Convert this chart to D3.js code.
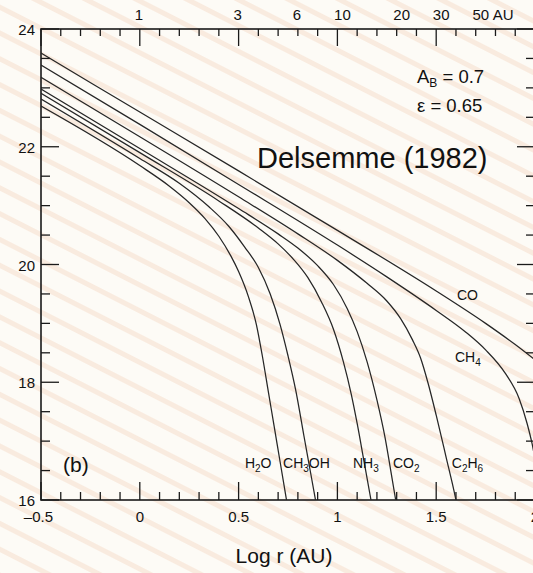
<!DOCTYPE html>
<html lang="en">
<head>
<meta charset="UTF-8">
<title>Sublimation rate vs heliocentric distance</title>
<script src="https://d3js.org/d3.v7.min.js"></script>
<style>
  body { margin: 0; background: #fdfbf6; }
  svg { display: block; font-family: Arial, "Liberation Sans", sans-serif; }
  .curve { fill: none; stroke: #262626; stroke-width: 1.25; }
  .frame { stroke: #1a1a1a; stroke-width: 1.6; fill: none; }
  .tick { stroke: #1a1a1a; stroke-width: 1.3; }
  .lbl { fill: #111; }
</style>
</head>
<body>
<svg id="chart" width="533" height="573"></svg>
<script>
// curves: [log r (AU), log Z]
const co    = [[-0.5,23.59],[0,22.59],[0.5,21.59],[1.0,20.58],[1.5,19.55],[1.75,19.0],[1.9,18.64],[2.0,18.38]];
const ch4   = [[-0.5,23.39],[0,22.38],[0.5,21.36],[1.0,20.33],[1.25,19.79],[1.5,19.22],[1.65,18.85],[1.75,18.55],[1.85,18.15],[1.92,17.72],[1.96,17.3],[1.985,16.96],[2.0,16.7]];
const c2h6  = [[-0.5,23.18],[0,22.17],[0.5,21.15],[0.8,20.52],[1.0,20.07],[1.15,19.68],[1.25,19.38],[1.32,19.08],[1.38,18.72],[1.42,18.42],[1.46,17.97],[1.5,17.44],[1.55,16.73],[1.595,16.08],[1.6,16.0]];
const co2   = [[-0.5,22.98],[0,21.97],[0.5,20.95],[0.7,20.52],[0.8,20.28],[0.9,19.98],[0.98,19.66],[1.05,19.25],[1.1,18.86],[1.15,18.35],[1.2,17.7],[1.24,17.08],[1.27,16.5],[1.295,16.0]];
const nh3   = [[-0.5,22.91],[0,21.9],[0.4,21.08],[0.6,20.62],[0.7,20.35],[0.78,20.08],[0.85,19.78],[0.92,19.36],[0.98,18.9],[1.03,18.35],[1.07,17.8],[1.1,17.3],[1.135,16.65],[1.17,16.0]];
const ch3oh = [[-0.5,22.81],[0,21.8],[0.2,21.38],[0.35,20.98],[0.45,20.65],[0.53,20.3],[0.6,19.95],[0.66,19.5],[0.71,18.98],[0.75,18.45],[0.79,17.85],[0.83,17.1],[0.865,16.45],[0.9,15.8]];
const h2o   = [[-0.5,22.69],[0,21.68],[0.15,21.33],[0.25,21.05],[0.33,20.78],[0.4,20.48],[0.46,20.15],[0.5,19.88],[0.55,19.45],[0.59,18.98],[0.62,18.45],[0.65,17.85],[0.68,17.25],[0.71,16.65],[0.74,16.05],[0.745,15.95]];

// species labels: [text pieces, log r, log Z]  ("_" marks a subscript)
const speciesLabels = [
  [["H","_2","O"], 0.532, 16.54],
  [["CH","_3","OH"], 0.725, 16.54],
  [["NH","_3"], 1.079, 16.54],
  [["CO","_2"], 1.281, 16.54],
  [["C","_2","H","_6"], 1.579, 16.54],
  [["CO"], 1.605, 19.40],
  [["CH","_4"], 1.595, 18.35]
];

const xLabelVals = [-0.5, 0, 0.5, 1, 1.5, 2];
const xLabelText = ["\u20130.5", "0", "0.5", "1", "1.5", "2"];
const yLabelVals = [16, 18, 20, 22, 24];
const topPos  = [0, 0.5, 0.8, 1, 1.3, 1.5, 1.7];
const topText = ["1", "3", "6", "10", "20", "30", "50"];

const svg = d3.select("#chart");
const W = 533, H = 573;
const pL = 41, pR = 535, pT = 29, pB = 500;

const x = d3.scaleLinear().domain([-0.5, 2]).range([pL, pR]);
const y = d3.scaleLinear().domain([16, 24]).range([pB, pT]);

// faint streaky background
const defs = svg.append("defs");
const pat = defs.append("pattern")
  .attr("id", "streaks")
  .attr("patternUnits", "userSpaceOnUse")
  .attr("width", 23).attr("height", 23)
  .attr("patternTransform", "rotate(27)");
pat.append("rect").attr("width", 23).attr("height", 23).attr("fill", "#fdfbf6");
pat.append("rect").attr("y", 4).attr("width", 23).attr("height", 5).attr("fill", "#f9ebdf");
svg.append("rect").attr("width", W).attr("height", H).attr("fill", "url(#streaks)");

defs.append("clipPath").attr("id", "plotclip")
  .append("rect").attr("x", pL).attr("y", pT).attr("width", pR - pL).attr("height", pB - pT);

// ticks: every 0.1 on x, every 0.5 on y, inward
const xt = d3.range(-5, 21).map(d => d / 10);
const yt = d3.range(32, 49).map(d => d / 2);
const isMajX = v => Math.abs(v * 2 - Math.round(v * 2)) < 1e-6;
const isMajY = v => Math.abs(v / 2 - Math.round(v / 2)) < 1e-6;

const tg = svg.append("g");
tg.selectAll(".tb").data(xt).join("line").attr("class", "tick")
  .attr("x1", d => x(d)).attr("x2", d => x(d))
  .attr("y1", pB).attr("y2", d => pB - (isMajX(d) ? 18 : 8));
tg.selectAll(".tt").data(xt).join("line").attr("class", "tick")
  .attr("x1", d => x(d)).attr("x2", d => x(d))
  .attr("y1", pT).attr("y2", d => pT + (isMajX(d) ? 17 : 7));
tg.selectAll(".tl").data(yt).join("line").attr("class", "tick")
  .attr("x1", pL).attr("x2", d => pL + (isMajY(d) ? 18 : 9))
  .attr("y1", d => y(d)).attr("y2", d => y(d));
tg.selectAll(".tr").data(yt).join("line").attr("class", "tick")
  .attr("x1", pR).attr("x2", d => pR - (isMajY(d) ? 18 : 9))
  .attr("y1", d => y(d)).attr("y2", d => y(d));

// frame
svg.append("rect").attr("class", "frame")
  .attr("x", pL).attr("y", pT).attr("width", pR - pL).attr("height", pB - pT);

// curves
const line = d3.line().x(d => x(d[0])).y(d => y(d[1])).curve(d3.curveMonotoneX);
svg.append("g").attr("clip-path", "url(#plotclip)")
  .selectAll("path").data([co, ch4, c2h6, co2, nh3, ch3oh, h2o]).join("path")
  .attr("class", "curve").attr("d", line);

// axis labels
svg.selectAll(".xl").data(xLabelVals).join("text").attr("class", "lbl")
  .attr("x", (d, i) => i === 0 ? x(d) + 12 : x(d))
  .attr("y", 522).attr("font-size", 15)
  .attr("text-anchor", (d, i) => i === 0 ? "end" : "middle")
  .text((d, i) => xLabelText[i]);

svg.selectAll(".yl").data(yLabelVals).join("text").attr("class", "lbl")
  .attr("x", 35).attr("y", d => y(d) + 6).attr("font-size", 15)
  .attr("text-anchor", "end").text(d => d);

svg.selectAll(".tp").data(topPos).join("text").attr("class", "lbl")
  .attr("x", (d, i) => x(d) + (topText[i].length > 1 ? 5 : -1)).attr("y", 20).attr("font-size", 15)
  .attr("text-anchor", "middle").text((d, i) => topText[i]);
svg.append("text").attr("class", "lbl")
  .attr("x", x(1.7) + 17).attr("y", 20).attr("font-size", 15).text("AU");

svg.append("text").attr("class", "lbl")
  .attr("x", x(0.73)).attr("y", 563).attr("font-size", 21)
  .attr("text-anchor", "middle").text("Log r (AU)");

// species labels with subscripts
speciesLabels.forEach(([parts, lx, ly]) => {
  const t = svg.append("text").attr("class", "lbl")
    .attr("x", x(lx)).attr("y", y(ly)).attr("font-size", 14);
  let low = false;
  parts.forEach(p => {
    const sub = p.startsWith("_");
    const s = t.append("tspan").text(sub ? p.slice(1) : p);
    if (sub) { s.attr("font-size", 10).attr("dy", low ? 0 : 4); low = true; }
    else { s.attr("dy", low ? -4 : 0); low = false; }
  });
});

// annotations
svg.append("text").attr("class", "lbl").attr("x", 257).attr("y", 168)
  .attr("font-size", 29).text("Delsemme (1982)");

const ab = svg.append("text").attr("class", "lbl").attr("x", 417).attr("y", 83).attr("font-size", 18.5);
ab.append("tspan").text("A");
ab.append("tspan").attr("font-size", 12).attr("dy", 4).text("B");
ab.append("tspan").attr("dy", -4).text(" = 0.7");
svg.append("text").attr("class", "lbl").attr("x", 417).attr("y", 112)
  .attr("font-size", 18.5).text("\u03b5 = 0.65");

svg.append("text").attr("class", "lbl").attr("x", 63).attr("y", 472)
  .attr("font-size", 21).text("(b)");
</script>
</body>
</html>
